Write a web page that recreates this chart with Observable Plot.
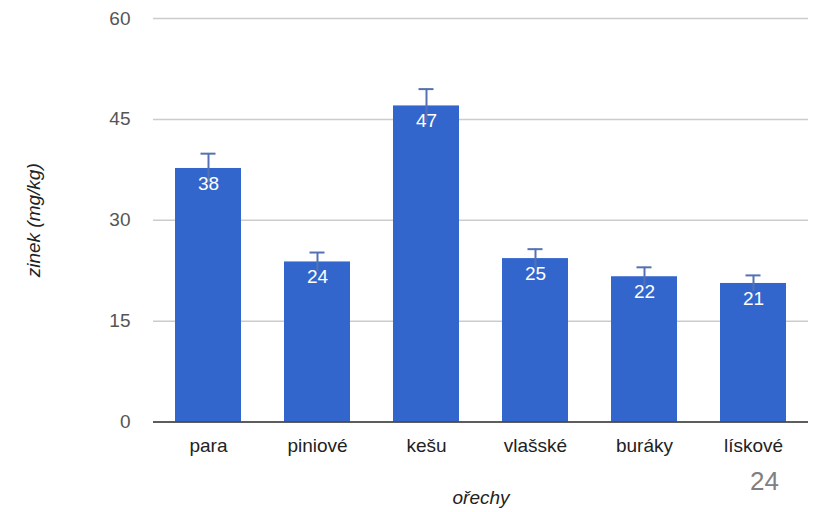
<!DOCTYPE html>
<html><head><meta charset="utf-8">
<script src="https://cdn.jsdelivr.net/npm/d3@7"></script>
<script src="https://cdn.jsdelivr.net/npm/@observablehq/plot@0.6"></script>
<style>
body{margin:0;background:#fff;}
#wrap{position:relative;width:813px;height:512px;}
#page{position:absolute;left:750px;top:466px;font:26px "Liberation Sans",Arial,sans-serif;color:#808080;}
</style>
</head><body><div id="wrap"><div id="chart"></div><div id="page">24</div></div>
<script>
const categories = ["para","piniové","kešu","vlašské","buráky","lískové"];
const values = [37.7, 23.8, 47.0, 24.3, 21.6, 20.6];
const labels = ["38","24","47","25","22","21"];
const errorUpper = [39.9, 25.2, 49.5, 25.7, 23.0, 21.8];
const yTicks = [0, 15, 30, 45, 60];
const yTitle = "zinek (mg/kg)";
const xTitle = "ořechy";

const data = categories.map((c, i) => ({
  c, v: values[i], up: errorUpper[i], lo: 2 * values[i] - errorUpper[i], label: labels[i]
}));

const errColor = "#5472b3";
const chart = Plot.plot({
  width: 813, height: 512,
  marginLeft: 153, marginRight: 5, marginTop: 18, marginBottom: 90.5,
  style: {fontFamily: "'Liberation Sans', Arial, sans-serif", fontSize: "19px", color: "#444", background: "#fff"},
  x: {domain: categories, paddingInner: 0.39, paddingOuter: 0.195, label: null},
  y: {domain: [0, 60], ticks: yTicks, label: null},
  marks: [
    Plot.gridY(yTicks, {stroke: "#cccccc", strokeOpacity: 1, strokeWidth: 1.5}),
    Plot.barY(data, {x: "c", y: "v", fill: "#3366cc"}),
    Plot.ruleY([0], {stroke: "#333", strokeWidth: 1.5}),
    Plot.ruleX(data, {x: "c", y1: "lo", y2: "up", stroke: errColor, strokeWidth: 2}),
    Plot.tickY(data, {x: "c", y: "up", stroke: errColor, strokeWidth: 2, insetLeft: 25.5, insetRight: 25.5}),
    Plot.text(data, {x: "c", y: "v", text: "label", fill: "white", dy: 15, fontSize: 19}),
    Plot.axisY(yTicks, {tickSize: 0, tickPadding: 23, fontSize: 19, fill: "#555", label: null}),
    Plot.axisX({tickSize: 0, tickPadding: 16, fontSize: 19, fill: "#222", label: null}),
    Plot.text([yTitle], {frameAnchor: "left", textAnchor: "middle", dx: -120, rotate: -90, fontStyle: "italic", fontSize: 19, fill: "#222"}),
    Plot.text([xTitle], {frameAnchor: "bottom", textAnchor: "middle", dy: 82, fontStyle: "italic", fontSize: 19, fill: "#222"})
  ]
});
document.getElementById("chart").appendChild(chart);
</script>
</body></html>
